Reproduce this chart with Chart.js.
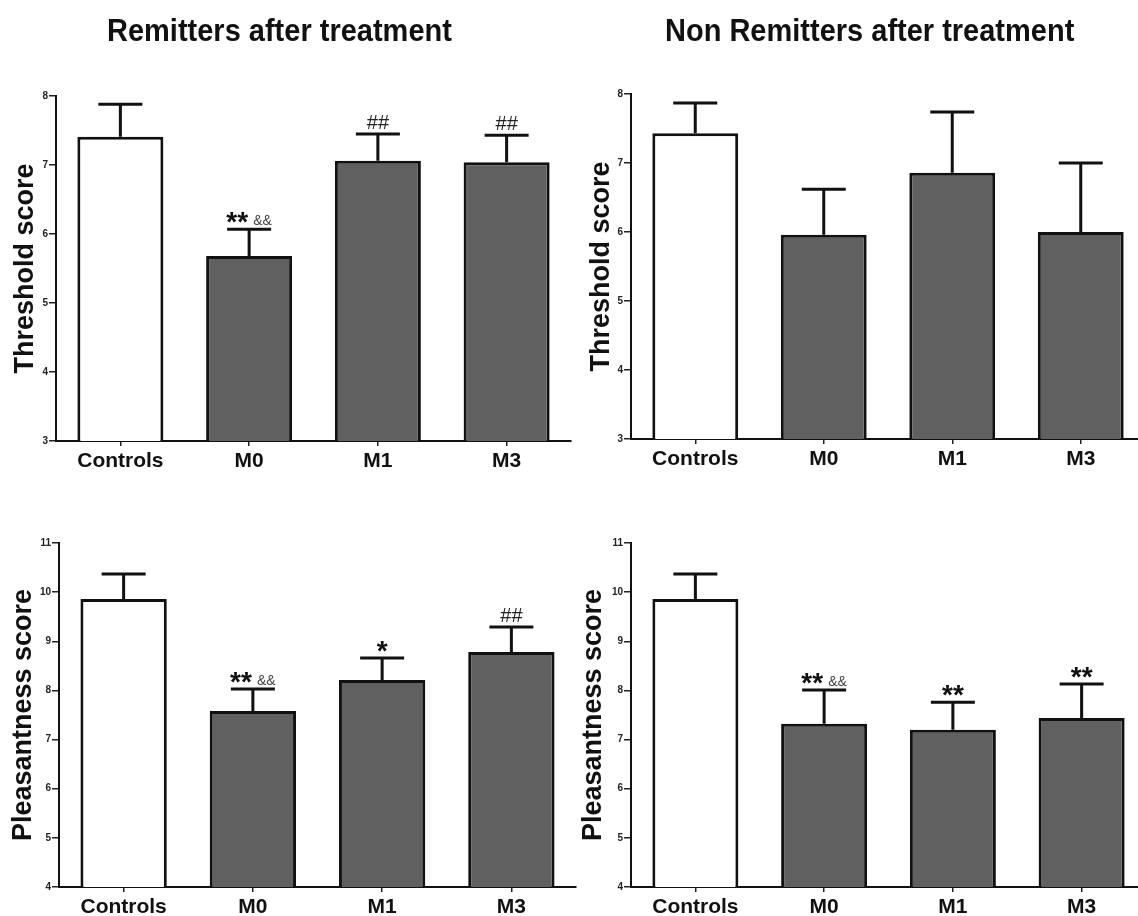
<!DOCTYPE html>
<html><head><meta charset="utf-8">
<script src="https://cdn.jsdelivr.net/npm/chart.js@4"></script>
<style>
html,body{margin:0;padding:0;background:#fff;overflow:hidden;width:1138px;height:916px;position:relative;}
canvas.panel{position:absolute;}
.title{position:absolute;font:bold 29px 'Liberation Sans',Arial,sans-serif;line-height:29px;color:#111;white-space:nowrap;transform:scaleY(1.1);transform-origin:50% 50%;}
</style></head><body>
<canvas id="c1" class="panel" width="580" height="480" style="left:0;top:0"></canvas>
<canvas id="c2" class="panel" width="580" height="478" style="left:570px;top:0"></canvas>
<canvas id="c3" class="panel" width="580" height="416" style="left:0;top:500px"></canvas>
<canvas id="c4" class="panel" width="580" height="416" style="left:570px;top:500px"></canvas>
<div class="title" style="left:107px;top:16px">Remitters after treatment</div>
<div class="title" style="left:665px;top:16px">Non Remitters after treatment</div>
<script>
// ---- data ----
const categories = ['Controls', 'M0', 'M1', 'M3'];
const thresholdRange = [3, 8];
const pleasantRange = [4, 11];

const thresholdRemitters = [7.41, 5.68, 7.06, 7.04];
const thresholdRemittersSEM = [0.47, 0.39, 0.39, 0.39];
const thresholdRemittersMarks = ['', '**&&', '##', '##'];

const thresholdNonRemitters = [7.43, 5.96, 6.86, 6.00];
const thresholdNonRemittersSEM = [0.44, 0.66, 0.88, 1.00];
const thresholdNonRemittersMarks = ['', '', '', ''];

const pleasantRemitters = [9.86, 7.58, 8.21, 8.78];
const pleasantRemittersSEM = [0.51, 0.45, 0.45, 0.51];
const pleasantRemittersMarks = ['', '**&&', '*', '##'];

const pleasantNonRemitters = [9.86, 7.32, 7.20, 7.44];
const pleasantNonRemittersSEM = [0.51, 0.69, 0.56, 0.69];
const pleasantNonRemittersMarks = ['', '**&&', '**', '**'];

// ---- drawing ----
const FONT = "'Liberation Sans', Arial, sans-serif";

const errPlugin = {
  id: 'errMarks',
  afterDatasetsDraw(chart, args, opts) {
    const ctx = chart.ctx;
    const meta = chart.getDatasetMeta(0);
    const yS = chart.scales.y;
    const vals = chart.data.datasets[0].data;
    ctx.save();
    meta.data.forEach((bar, i) => {
      const top = yS.getPixelForValue(vals[i]);
      const cap = yS.getPixelForValue(vals[i] + opts.errors[i]);
      ctx.strokeStyle = '#111';
      ctx.lineWidth = 3;
      ctx.beginPath();
      ctx.moveTo(bar.x, top);
      ctx.lineTo(bar.x, cap);
      ctx.moveTo(bar.x - 22, cap);
      ctx.lineTo(bar.x + 22, cap);
      ctx.stroke();
      const m = opts.marks[i] || '';
      const stars = (m.match(/\*+/) || [''])[0];
      const amps = (m.match(/&+/) || [''])[0];
      const hashes = (m.match(/#+/) || [''])[0];
      ctx.textBaseline = 'alphabetic';
      if (stars) {
        ctx.font = 'bold 28px ' + FONT;
        ctx.fillStyle = '#111';
        if (amps) {
          ctx.textAlign = 'right';
          ctx.fillText(stars, bar.x - 1, cap + 2);
        } else {
          ctx.textAlign = 'center';
          ctx.fillText(stars, bar.x, cap + 2);
        }
      }
      if (amps) {
        ctx.font = '14px ' + FONT;
        ctx.fillStyle = '#444';
        ctx.textAlign = 'left';
        ctx.fillText(amps, bar.x + 4, cap - 4);
      }
      if (hashes) {
        ctx.font = '20px ' + FONT;
        ctx.fillStyle = '#222';
        ctx.textAlign = 'center';
        ctx.fillText(hashes, bar.x, cap - 5);
      }
    });
    ctx.restore();
  }
};

function makeChart(id, g) {
  new Chart(document.getElementById(id), {
    type: 'bar',
    data: {
      labels: categories,
      datasets: [{
        data: g.values,
        backgroundColor: categories.map((c, i) => i === 0 ? '#ffffff' : '#606060'),
        borderColor: '#111',
        borderWidth: 3,
        borderSkipped: 'start',
        barPercentage: 0.668,
        categoryPercentage: 1
      }]
    },
    options: {
      responsive: false,
      animation: false,
      devicePixelRatio: 1,
      layout: { padding: { top: g.padTop, right: g.padRight, left: 0, bottom: 0 } },
      plugins: {
        legend: { display: false },
        tooltip: { enabled: false },
        errMarks: { errors: g.errors, marks: g.marks }
      },
      scales: {
        x: {
          grid: { display: true, offset: false, drawOnChartArea: false, drawTicks: true, tickLength: 5, color: '#222', lineWidth: 1.5 },
          border: { display: true, color: '#111', width: 2 },
          ticks: { font: { family: FONT, size: 21, weight: 'bold' }, color: '#111', padding: 3 },
          afterFit(s) { s.height = g.xHeight; }
        },
        y: {
          min: g.range[0], max: g.range[1],
          ticks: { stepSize: 1, font: { family: FONT, size: 10, weight: 'bold' }, color: '#222', padding: 1 },
          grid: { display: true, drawOnChartArea: false, drawTicks: true, tickLength: 7, color: '#222', lineWidth: 1.5 },
          border: { display: true, color: '#111', width: 2 },
          title: { display: true, text: g.yTitle, font: { family: FONT, size: 27, weight: 'bold' }, color: '#111', padding: { top: g.titlePad, bottom: 0 } },
          afterFit(s) { s.width = g.yWidth; }
        }
      }
    },
    plugins: [errPlugin]
  });
}

makeChart('c1', { values: thresholdRemitters, errors: thresholdRemittersSEM, marks: thresholdRemittersMarks, range: thresholdRange, yTitle: 'Threshold score', yWidth: 56, padTop: 96, padRight: 9, xHeight: 39, titlePad: 9 });
makeChart('c2', { values: thresholdNonRemitters, errors: thresholdNonRemittersSEM, marks: thresholdNonRemittersMarks, range: thresholdRange, yTitle: 'Threshold score', yWidth: 61, padTop: 94, padRight: 5, xHeight: 39, titlePad: 15 });
makeChart('c3', { values: pleasantRemitters, errors: pleasantRemittersSEM, marks: pleasantRemittersMarks, range: pleasantRange, yTitle: 'Pleasantness score', yWidth: 59, padTop: 43, padRight: 4, xHeight: 29, titlePad: 7 });
makeChart('c4', { values: pleasantNonRemitters, errors: pleasantNonRemittersSEM, marks: pleasantNonRemittersMarks, range: pleasantRange, yTitle: 'Pleasantness score', yWidth: 61, padTop: 43, padRight: 4, xHeight: 29, titlePad: 7 });
</script>
</body></html>
